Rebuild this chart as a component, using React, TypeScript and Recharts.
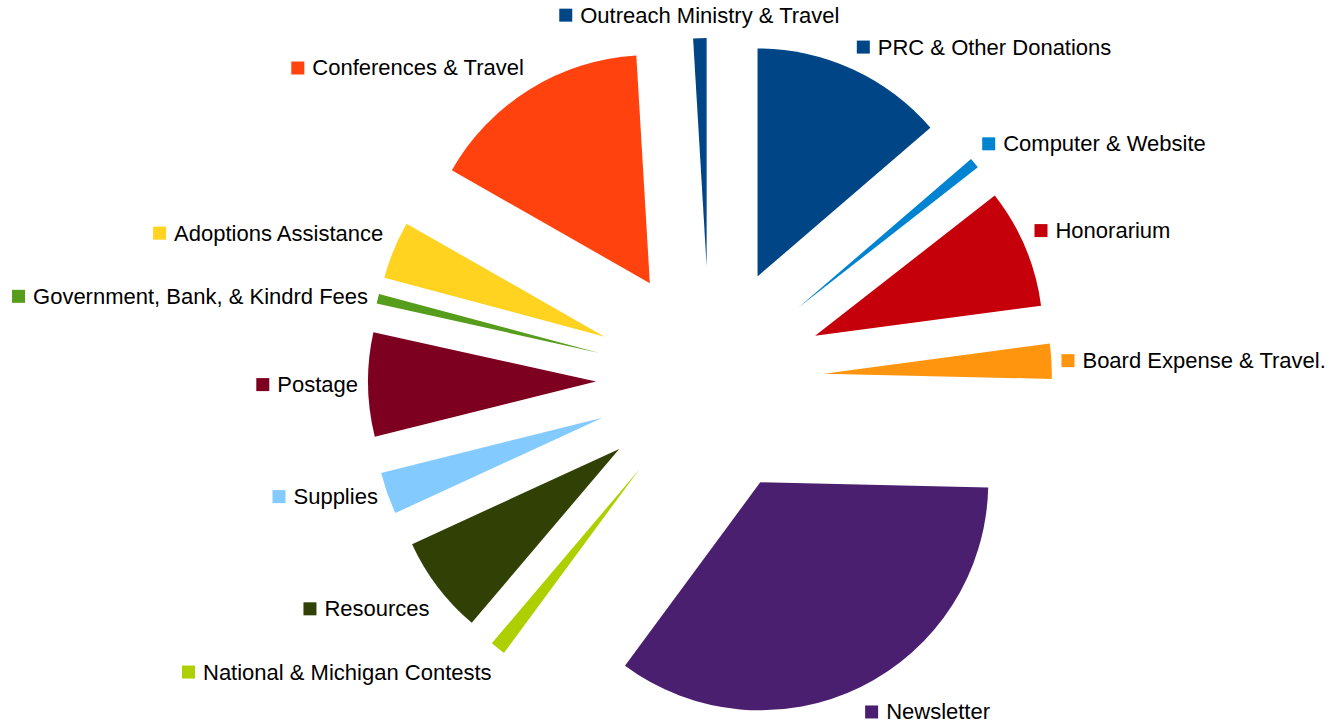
import { PieChart, Pie, Sector } from 'recharts';

// Slices in data order, starting at 12 o'clock and running counter-clockwise
const categories = [
  'Outreach Ministry & Travel',
  'Conferences & Travel',
  'Adoptions Assistance',
  'Government, Bank, & Kindrd Fees',
  'Postage',
  'Supplies',
  'Resources',
  'National & Michigan Contests',
  'Newsletter',
  'Board Expense & Travel.',
  'Honorarium',
  'Computer & Website',
  'PRC & Other Donations',
];

const amounts = [340, 5690, 1470, 250, 2650, 1070, 2500, 390, 12510, 890, 3040, 270, 4930];

const COLORS = [
  '#004586',
  '#ff420e',
  '#ffd320',
  '#579d1c',
  '#7e0021',
  '#83caff',
  '#314004',
  '#aecf00',
  '#4b1f6f',
  '#ff950e',
  '#c5000b',
  '#0084d1',
  '#004586',
];

const data = categories.map((name, i) => ({ name, value: amounts[i] }));

const CX = 710;
const CY = 380;
const RADIUS = 228;
const EXPLODE = 114;
const LABEL_R = 352;
const FONT_SIZE = 22;
const FONT_FAMILY = '"Liberation Sans", Arial, sans-serif';
const KEY = 13;
const GAP = 8;

let measureCtx: CanvasRenderingContext2D | null = null;
function textWidth(s: string) {
  if (!measureCtx) measureCtx = document.createElement('canvas').getContext('2d');
  if (!measureCtx) return s.length * FONT_SIZE * 0.5;
  measureCtx.font = `${FONT_SIZE}px ${FONT_FAMILY}`;
  return measureCtx.measureText(s).width;
}

// draws the exploded slice plus its legend-style label
function renderSlice(props: any) {
  const { cx, cy, midAngle, outerRadius, startAngle, endAngle, index } = props;
  const name = categories[index];
  const color = COLORS[index];
  const rad = (midAngle * Math.PI) / 180;
  const cos = Math.cos(rad);
  const sin = Math.sin(rad);

  const sx = cx + EXPLODE * cos;
  const sy = cy - EXPLODE * sin;

  const ax = cx + LABEL_R * cos;
  const ay = cy - LABEL_R * sin;
  const total = KEY + GAP + textWidth(name);

  let left: number;
  if (Math.abs(cos) < 0.3) left = ax - total / 2;
  else if (cos > 0) left = ax;
  else left = ax - total;

  const fromHoriz = (Math.asin(Math.min(1, Math.abs(sin))) * 180) / Math.PI;
  let midY = ay;
  if (fromHoriz > 21) midY = sin > 0 ? ay - 13 : ay + 16;

  return (
    <g key={`slice-${index}`}>
      <Sector
        cx={sx}
        cy={sy}
        innerRadius={0}
        outerRadius={outerRadius}
        startAngle={startAngle}
        endAngle={endAngle}
        fill={color}
        stroke="none"
      />
      <rect x={left} y={midY - KEY / 2} width={KEY} height={KEY} fill={color} />
      <text
        x={left + KEY + GAP}
        y={midY}
        dominantBaseline="central"
        fontFamily={FONT_FAMILY}
        fontSize={FONT_SIZE}
        fill="#000"
      >
        {name}
      </text>
    </g>
  );
}

export default function App() {
  return (
    <div style={{ position: 'absolute', left: 0, top: 0, background: '#fff' }}>
      <PieChart width={1338} height={721} margin={{ top: 0, right: 0, bottom: 0, left: 0 }}>
        <Pie
          data={data}
          dataKey="value"
          nameKey="name"
          cx={CX}
          cy={CY}
          innerRadius={0}
          outerRadius={RADIUS}
          startAngle={90}
          endAngle={450}
          fill="transparent"
          stroke="none"
          label={renderSlice}
          labelLine={false}
          isAnimationActive={false}
        />
      </PieChart>
    </div>
  );
}
